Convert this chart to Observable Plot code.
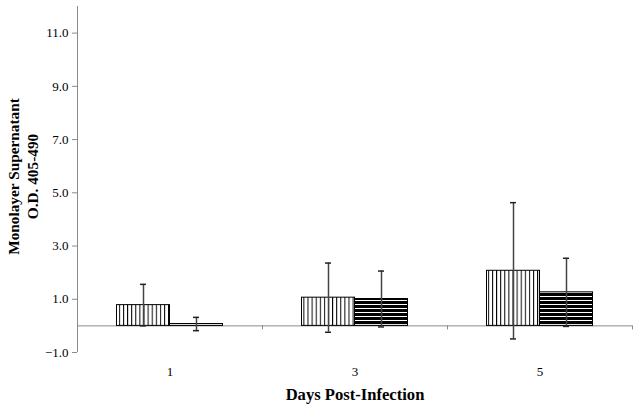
<!DOCTYPE html>
<html>
<head>
<meta charset="utf-8">
<script src="https://cdn.jsdelivr.net/npm/d3@7"></script>
<script src="https://cdn.jsdelivr.net/npm/@observablehq/plot@0.6"></script>
<style>
  html, body { margin: 0; padding: 0; background: #fff; }
</style>
</head>
<body>
<div id="chart"></div>
<script>
// Data
const days = ["1", "3", "5"];
const seriesA = [0.78, 1.06, 2.07];      // vertical-striped bars (mean)
const errorsA = [0.78, 1.30, 2.56];      // vertical-striped bars (error)
const seriesB = [0.07, 1.01, 1.26];      // horizontal-striped bars (mean)
const errorsB = [0.25, 1.05, 1.28];      // horizontal-striped bars (error)
const yTicks = [-1, 1, 3, 5, 7, 9, 11];
const yLabel = "Monolayer Supernatant\nO.D. 405-490";
const xLabel = "Days Post-Infection";

const A = days.map((d, i) => ({day: d, value: seriesA[i], err: errorsA[i]}));
const B = days.map((d, i) => ({day: d, value: seriesB[i], err: errorsB[i]}));

const half = 26.5;
const errColor = "#444";
const axisColor = "#8a8a8a";

const svg = Plot.plot({
  width: 637,
  height: 407,
  marginLeft: 77,
  marginRight: 5,
  marginTop: 6,
  marginBottom: 55,
  style: {fontFamily: "'Liberation Serif', 'Times New Roman', serif", fontSize: "13px", color: "#000", background: "#fff"},
  x: {type: "band", domain: days, padding: 0, tickSize: 0, tickPadding: 14, label: null},
  y: {domain: [-1, 12], ticks: yTicks, tickFormat: d3.format(".1f"), tickSize: 5, tickPadding: 4, label: null},
  marks: [
    // y axis line
    Plot.ruleX([days[0]], {x: d => d, dx: -92.5, y1: -1, y2: 12, stroke: axisColor}),
    // baseline
    Plot.ruleY([0], {stroke: axisColor}),
    // category boundary ticks
    Plot.ruleX(days, {x: d => d, dx: 92.5, y1: 0, y2: -0.15, stroke: axisColor}),
    // bars
    Plot.barY(A, {x: "day", y: "value", fill: "url(#vstripe)", stroke: "#000", strokeWidth: 1, insetLeft: 39.5, insetRight: 92.5}),
    Plot.barY(B, {x: "day", y: "value", fill: "url(#hstripe)", stroke: "#000", strokeWidth: 1, insetLeft: 92.5, insetRight: 39.5}),
    // error bars
    Plot.ruleX(A, {x: "day", dx: -half, y1: d => d.value - d.err, y2: d => d.value + d.err, stroke: errColor, strokeWidth: 1.5}),
    Plot.ruleX(B, {x: "day", dx: half, y1: d => d.value - d.err, y2: d => d.value + d.err, stroke: errColor, strokeWidth: 1.5}),
    Plot.tickY(A, {x: "day", y: d => d.value + d.err, insetLeft: 63, insetRight: 116, stroke: "#222", strokeWidth: 1.5}),
    Plot.tickY(A, {x: "day", y: d => d.value - d.err, insetLeft: 63, insetRight: 116, stroke: "#222", strokeWidth: 1.5}),
    Plot.tickY(B, {x: "day", y: d => d.value + d.err, insetLeft: 116, insetRight: 63, stroke: "#222", strokeWidth: 1.5}),
    Plot.tickY(B, {x: "day", y: d => d.value - d.err, insetLeft: 116, insetRight: 63, stroke: "#222", strokeWidth: 1.5}),
    // axis titles
    Plot.text([yLabel], {frameAnchor: "left", rotate: -90, dx: -55.5, dy: -3, text: d => d, fontSize: 15.3, fontWeight: "bold", lineHeight: 1.24, textAnchor: "middle", lineAnchor: "middle", fill: "#000"}),
    Plot.text([xLabel], {frameAnchor: "bottom", dy: 42, text: d => d, fontSize: 16.6, fontWeight: "bold", textAnchor: "middle", lineAnchor: "middle", fill: "#000"})
  ]
});

// stripe patterns
const ns = "http://www.w3.org/2000/svg";
const defs = document.createElementNS(ns, "defs");
defs.innerHTML = `
  <pattern id="vstripe" patternUnits="userSpaceOnUse" width="4.1" height="10">
    <rect width="4.1" height="10" fill="#fff"/>
    <rect x="0" y="0" width="1" height="10" fill="#000"/>
  </pattern>
  <pattern id="hstripe" patternUnits="userSpaceOnUse" width="10" height="4">
    <rect width="10" height="4" fill="#000"/>
    <rect x="0" y="0" width="10" height="1" fill="#fff"/>
  </pattern>`;
svg.insertBefore(defs, svg.firstChild);

// axis styling: grey tick lines, black labels
const sel = d3.select(svg);
sel.selectAll("g[aria-label='y-axis tick']").attr("stroke", axisColor);
sel.selectAll("g[aria-label='x-axis tick label'], g[aria-label='y-axis tick label']").attr("fill", "#000");

document.getElementById("chart").appendChild(svg);
</script>
</body>
</html>
